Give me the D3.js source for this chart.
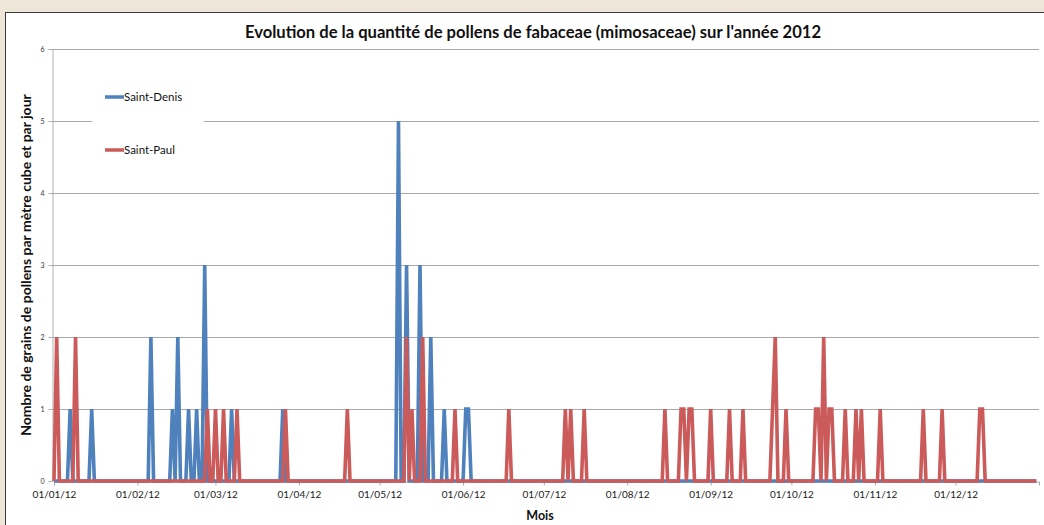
<!DOCTYPE html>
<html>
<head>
<meta charset="utf-8">
<script src="https://cdn.jsdelivr.net/npm/d3@7"></script>
<style>
  body { margin: 0; background: #efe6da; overflow: hidden; }
  svg { display: block; }
</style>
</head>
<body>
<div id="chart"></div>
<script>
// days with pollen, everything else is 0
var denisDates = ["2012-01-07","2012-01-15","2012-02-06","2012-02-14","2012-02-16","2012-02-20",
  "2012-02-23","2012-02-26","2012-03-07","2012-03-26","2012-05-08","2012-05-11","2012-05-16",
  "2012-05-20","2012-05-25","2012-06-02","2012-06-03"];
var denisValues = [1,1,2,1,2,1,1,3,1,1,5,3,3,2,1,1,1];

var paulDates = ["2012-01-02","2012-01-09","2012-02-27","2012-03-01","2012-03-04","2012-03-09",
  "2012-03-27","2012-04-19","2012-05-11","2012-05-13","2012-05-17","2012-05-29","2012-06-18",
  "2012-07-09","2012-07-11","2012-07-16","2012-08-15","2012-08-21","2012-08-22","2012-08-24",
  "2012-08-25","2012-09-01","2012-09-08","2012-09-13","2012-09-24","2012-09-25","2012-09-29",
  "2012-10-10","2012-10-11","2012-10-13","2012-10-15","2012-10-16","2012-10-21","2012-10-25",
  "2012-10-27","2012-11-03","2012-11-19","2012-11-26","2012-12-10","2012-12-11"];
var paulValues = [2,2,1,1,1,1,1,1,2,1,2,1,1,1,1,1,1,1,1,1,1,1,1,1,1,2,1,1,1,2,1,1,1,1,1,1,1,1,1,1];

var seriesNames = ["Saint-Denis", "Saint-Paul"];
var seriesColors = ["#4f81bd", "#cb5a5a"];
var yTicks = [0, 1, 2, 3, 4, 5, 6];

var parse = d3.utcParse("%Y-%m-%d");
var allDays = d3.utcDay.range(parse("2012-01-01"), parse("2013-01-01"));

function buildSeries(dates, values) {
  var lookup = {};
  dates.forEach(function(d, i) { lookup[d] = values[i]; });
  var fmt = d3.utcFormat("%Y-%m-%d");
  return allDays.map(function(day) {
    return { date: day, value: lookup[fmt(day)] || 0 };
  });
}

var series = [buildSeries(denisDates, denisValues), buildSeries(paulDates, paulValues)];

var width = 1044;
var height = 525;
var margin = { top: 49, right: 5, bottom: 44, left: 54 };

var svg = d3.select("#chart")
  .append("svg")
  .attr("width", width)
  .attr("height", height);

// white panel
svg.append("rect")
  .attr("x", 5.5)
  .attr("y", 12.5)
  .attr("width", width)
  .attr("height", height)
  .attr("fill", "white")
  .attr("stroke", "#3a3a3a")
  .attr("stroke-width", 1);

svg.append("text")
  .attr("x", 533)
  .attr("y", 38)
  .attr("text-anchor", "middle")
  .style("font-family", "Lato, 'Open Sans', sans-serif")
  .style("font-weight", "bold")
  .style("font-size", "16.6px")
  .attr("fill", "#111")
  .text("Evolution de la quantité de pollens de fabaceae (mimosaceae) sur l'année 2012");

var x = d3.scaleUtc()
  .domain([parse("2012-01-01"), parse("2013-01-01")])
  .range([margin.left, width - margin.right]);

var y = d3.scaleLinear()
  .domain([0, 6])
  .range([height - margin.bottom, margin.top]);

// grid
svg.append("g")
  .selectAll("line")
  .data(yTicks.slice(1))
  .enter().append("line")
  .attr("x1", margin.left - 2)
  .attr("x2", width - margin.right)
  .attr("y1", function(d) { return Math.round(y(d)) + 0.5; })
  .attr("y2", function(d) { return Math.round(y(d)) + 0.5; })
  .attr("stroke", "#a8a8a8")
  .attr("stroke-width", 1);

var yAxis = svg.append("g")
  .attr("transform", "translate(" + (margin.left - 1.5) + ",0)")
  .call(d3.axisLeft(y).tickValues(yTicks).tickFormat(d3.format("d")).tickSize(4).tickPadding(4));
yAxis.select(".domain").attr("stroke", "#b0b0b0");
yAxis.selectAll(".tick line").attr("stroke", "#b0b0b0");
yAxis.selectAll("text")
  .style("font-family", "Lato, sans-serif")
  .style("font-size", "7px")
  .attr("fill", "#333");

var xAxis = svg.append("g")
  .attr("transform", "translate(0," + (y(0) + 0.5) + ")")
  .call(d3.axisBottom(x)
    .ticks(d3.utcMonth.every(1))
    .tickFormat(d3.utcFormat("%d/%m/%y"))
    .tickSize(4)
    .tickPadding(5));
xAxis.select(".domain").attr("stroke", "#a8a8a8");
xAxis.selectAll(".tick line").attr("stroke", "#a8a8a8");
xAxis.selectAll(".tick")
  .filter(function(d) { return d.getUTCFullYear() > 2012; })
  .remove();
xAxis.selectAll("text")
  .style("font-family", "Lato, sans-serif")
  .style("font-size", "10px")
  .attr("fill", "#222");

// legend box covers the grid line under it
svg.append("rect")
  .attr("x", 92)
  .attr("y", 78)
  .attr("width", 112)
  .attr("height", 92)
  .attr("fill", "white");

var legend = svg.append("g").attr("class", "legend");
var legendY = [97, 150];
seriesNames.forEach(function(name, i) {
  legend.append("line")
    .attr("x1", 105)
    .attr("x2", 124)
    .attr("y1", legendY[i])
    .attr("y2", legendY[i])
    .attr("stroke", seriesColors[i])
    .attr("stroke-width", 3.5);
  legend.append("text")
    .attr("x", 124)
    .attr("y", legendY[i] + 4)
    .style("font-family", "Lato, sans-serif")
    .style("font-size", "11.5px")
    .attr("fill", "#111")
    .text(name);
});

var line = d3.line()
  .x(function(d) { return x(d.date); })
  .y(function(d) { return y(d.value); });

svg.append("g")
  .selectAll("path")
  .data(series)
  .enter().append("path")
  .attr("d", line)
  .attr("fill", "none")
  .attr("stroke", function(d, i) { return seriesColors[i]; })
  .attr("stroke-width", 3.6)
  .attr("stroke-linejoin", "miter");

svg.append("text")
  .attr("x", 540)
  .attr("y", 520)
  .attr("text-anchor", "middle")
  .style("font-family", "Lato, sans-serif")
  .style("font-weight", "bold")
  .style("font-size", "12.5px")
  .attr("fill", "#111")
  .text("Mois");

svg.append("text")
  .attr("transform", "translate(31,265) rotate(-90)")
  .attr("text-anchor", "middle")
  .style("font-family", "Lato, sans-serif")
  .style("font-weight", "bold")
  .style("font-size", "14px")
  .attr("fill", "#111")
  .text("Nombre de grains de pollens par mètre cube et par jour");
</script>
</body>
</html>
